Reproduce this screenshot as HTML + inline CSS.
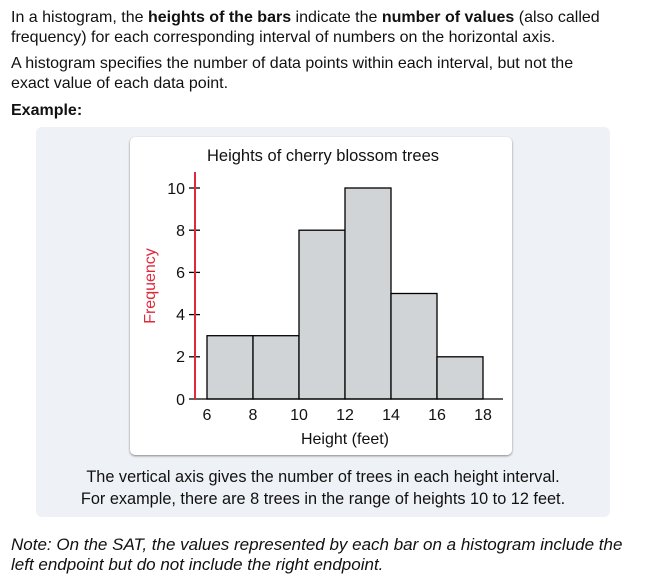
<!DOCTYPE html>
<html><head><style>
body{margin:0;width:646px;height:581px;background:#fff;font-family:"Liberation Sans",Arial,sans-serif;color:#111;position:relative;overflow:hidden}
.t{position:absolute;left:11px;font-size:16px;line-height:20px;white-space:nowrap}
.box{position:absolute;left:36px;top:127px;width:574px;height:390px;background:#eef1f5;border-radius:6px}
.card{position:absolute;left:130px;top:137px;width:382px;height:318px;background:#fff;border-radius:5px;box-shadow:0 1px 2px rgba(0,0,0,.45)}
.cap{position:absolute;left:36px;width:574px;text-align:center;font-size:16.3px;line-height:20px}
</style></head><body>
<div class="t" style="top:8px">In a histogram, the <b>heights of the bars</b> indicate the <b>number of values</b> (also called</div>
<div class="t" style="top:28px">frequency) for each corresponding interval of numbers on the horizontal axis.</div>
<div class="t" style="top:54px">A histogram specifies the number of data points within each interval, but not the</div>
<div class="t" style="top:74px">exact value of each data point.</div>
<div class="t" style="top:101px"><b>Example:</b></div>
<div class="box"></div>
<div class="card"></div>
<svg style="position:absolute;left:0;top:0" width="646" height="581" font-family="Liberation Sans, Arial, sans-serif">
<text x="323" y="161" font-size="16.5" text-anchor="middle" fill="#111">Heights of cherry blossom trees</text>
<g fill="#d1d4d6" stroke="#000" stroke-width="1.3">
<rect x="207" y="335.7" width="46" height="63.3"/>
<rect x="253" y="335.7" width="46" height="63.3"/>
<rect x="299" y="230.2" width="46" height="168.8"/>
<rect x="345" y="188" width="46" height="211"/>
<rect x="391" y="293.5" width="46" height="105.5"/>
<rect x="437" y="356.8" width="46" height="42.2"/>
</g>
<g stroke="#000" stroke-width="1.3">
<line x1="189" y1="399" x2="503" y2="399"/>
<line x1="189" y1="188" x2="200" y2="188"/>
<line x1="189" y1="230.2" x2="200" y2="230.2"/>
<line x1="189" y1="272.4" x2="200" y2="272.4"/>
<line x1="189" y1="314.6" x2="200" y2="314.6"/>
<line x1="189" y1="356.8" x2="200" y2="356.8"/>
</g>
<line x1="195" y1="172" x2="195" y2="399" stroke="#e0293a" stroke-width="2"/>
<g font-size="16" fill="#111" text-anchor="end">
<text x="185" y="194">10</text><text x="185" y="236">8</text><text x="185" y="278">6</text>
<text x="185" y="320">4</text><text x="185" y="362">2</text><text x="185" y="405">0</text>
</g>
<g font-size="16" fill="#111" text-anchor="middle">
<text x="207" y="420">6</text><text x="253" y="420">8</text><text x="299" y="420">10</text>
<text x="345" y="420">12</text><text x="391" y="420">14</text><text x="437" y="420">16</text><text x="483" y="420">18</text>
<text x="345" y="444">Height (feet)</text>
</g>
<text transform="translate(155,286) rotate(-90)" font-size="16" fill="#e0293a" text-anchor="middle">Frequency</text>
</svg>
<div class="cap" style="top:467px">The vertical axis gives the number of trees in each height interval.</div>
<div class="cap" style="top:489px">For example, there are 8 trees in the range of heights 10 to 12 feet.</div>
<div class="t" style="top:535px;font-style:italic;font-size:17px">Note: On the SAT, the values represented by each bar on a histogram include the</div>
<div class="t" style="top:555px;font-style:italic;font-size:17px">left endpoint but do not include the right endpoint.</div>
</body></html>
